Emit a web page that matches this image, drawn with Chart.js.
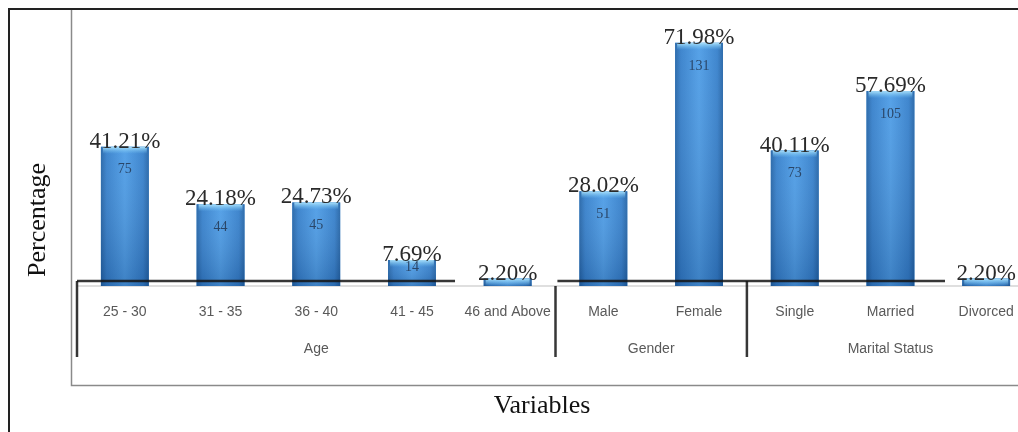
<!DOCTYPE html>
<html><head><meta charset="utf-8">
<script src="https://cdn.jsdelivr.net/npm/chart.js@4.4.1/dist/chart.umd.min.js"></script>
<style>
html,body{margin:0;padding:0;background:#fff;overflow:hidden;width:1018px;height:432px;}
#wrap{position:absolute;left:0;top:0;width:1060px;height:432px;}
</style></head><body>
<div id="wrap"><canvas id="c"></canvas></div>
<script>
const categories = ['25 - 30','31 - 35','36 - 40','41 - 45','46 and Above','Male','Female','Single','Married','Divorced'];
const percentages = [41.21, 24.18, 24.73, 7.69, 2.20, 28.02, 71.98, 40.11, 57.69, 2.20];
const counts = [75, 44, 45, 14, null, 51, 131, 73, 105, null];
const groups = ['Age', 'Gender', 'Marital Status'];
const groupSizes = [5, 2, 3];
const yTitle = 'Percentage';
const xTitle = 'Variables';

const TICK_FONT = '14px "Liberation Sans", Arial, sans-serif';
const SERIF = '"Liberation Serif", "Times New Roman", serif';

const decor = {
  id: 'decor',
  beforeDraw(chart) {
    const ctx = chart.ctx, W = chart.width;
    const y0 = chart.scales.y.getPixelForValue(0);
    ctx.save();
    ctx.strokeStyle = '#222'; ctx.lineWidth = 2;
    ctx.beginPath(); ctx.moveTo(9, 432); ctx.lineTo(9, 9); ctx.lineTo(W, 9); ctx.stroke();
    ctx.strokeStyle = '#8a8a8a'; ctx.lineWidth = 1.5;
    ctx.beginPath(); ctx.moveTo(71.5, 10); ctx.lineTo(71.5, 385.5); ctx.lineTo(W, 385.5); ctx.stroke();
    ctx.strokeStyle = '#d4d4d4'; ctx.lineWidth = 1.5;
    ctx.beginPath(); ctx.moveTo(chart.scales.x.getPixelForValue(-0.5), y0); ctx.lineTo(W, y0); ctx.stroke();
    ctx.restore();
  },
  afterDatasetsDraw(chart) {
    const ctx = chart.ctx;
    const xs = chart.scales.x, ys = chart.scales.y;
    const y0 = ys.getPixelForValue(0);
    const meta = chart.getDatasetMeta(0);
    ctx.save();
    meta.data.forEach((bar, i) => {
      const p = bar.getProps(['x', 'y', 'base', 'width'], true);
      const l = p.x - p.width / 2, r = p.x + p.width / 2, t = p.y, b = p.base, h = b - t;
      const g = ctx.createLinearGradient(l, 0, r, 0);
      g.addColorStop(0, '#2263a6');
      g.addColorStop(0.12, '#347fcb');
      g.addColorStop(0.5, '#4c9ce6');
      g.addColorStop(0.88, '#347fcb');
      g.addColorStop(1, '#2263a6');
      ctx.fillStyle = g; ctx.fillRect(l, t, p.width, h);
      const v = ctx.createLinearGradient(0, t, 0, b);
      v.addColorStop(0, 'rgba(255,255,255,0.06)');
      v.addColorStop(1, 'rgba(0,20,60,0.2)');
      ctx.fillStyle = v; ctx.fillRect(l, t, p.width, h);
      const capH = Math.min(7, h);
      const c = ctx.createLinearGradient(0, t, 0, t + capH);
      c.addColorStop(0, 'rgba(175,228,252,0.95)');
      c.addColorStop(1, 'rgba(120,200,245,0)');
      ctx.fillStyle = c; ctx.fillRect(l + 2, t, p.width - 4, capH);
    });
    ctx.strokeStyle = 'rgba(20,20,20,0.85)'; ctx.lineWidth = 2.5;
    const ya = y0 - 5;
    ctx.beginPath();
    ctx.moveTo(xs.getPixelForValue(-0.5), ya); ctx.lineTo(xs.getPixelForValue(3.45), ya);
    ctx.moveTo(xs.getPixelForValue(4.52), ya); ctx.lineTo(xs.getPixelForValue(8.57), ya);
    ctx.stroke();
    let start = 0;
    ctx.font = TICK_FONT; ctx.fillStyle = '#595959'; ctx.textAlign = 'center'; ctx.textBaseline = 'middle';
    groups.forEach((gname, gi) => {
      const sx = xs.getPixelForValue(start - 0.5);
      ctx.beginPath();
      ctx.moveTo(sx, gi === 1 ? y0 : ya); ctx.lineTo(sx, y0 + 71);
      ctx.stroke();
      const end = start + groupSizes[gi] - 1;
      const cx = (xs.getPixelForValue(start) + xs.getPixelForValue(end)) / 2;
      ctx.fillText(gname, cx, y0 + 63);
      start = end + 1;
    });
    meta.data.forEach((bar, i) => {
      const p = bar.getProps(['x', 'y', 'base'], true);
      ctx.font = '23px ' + SERIF; ctx.fillStyle = '#2a2a2a';
      ctx.textBaseline = 'alphabetic';
      ctx.fillText(percentages[i].toFixed(2) + '%', p.x, p.y + 1);
      if (counts[i] !== null) {
        const h = p.base - p.y;
        ctx.font = '14px ' + SERIF; ctx.fillStyle = '#2a4668';
        ctx.textBaseline = 'middle';
        ctx.fillText(String(counts[i]), p.x, p.y + Math.min(23, h * 0.3));
      }
    });
    ctx.fillStyle = '#111'; ctx.font = '26px ' + SERIF; ctx.textBaseline = 'middle';
    ctx.fillText(xTitle, 542, 406);
    ctx.translate(38, 220); ctx.rotate(-Math.PI / 2);
    ctx.fillText(yTitle, 0, 0);
    ctx.restore();
  }
};

new Chart(document.getElementById('c'), {
  type: 'bar',
  data: {
    labels: categories,
    datasets: [{ data: percentages, backgroundColor: '#3a8ad6', borderWidth: 0,
      barPercentage: 0.5, categoryPercentage: 1.0 }]
  },
  options: {
    responsive: true, maintainAspectRatio: false, animation: false,
    layout: { padding: { left: 77, right: 26, top: 9, bottom: 0 } },
    plugins: { legend: { display: false }, tooltip: { enabled: false } },
    scales: {
      x: {
        grid: { display: false, drawTicks: false }, border: { display: false },
        ticks: { font: { family: '"Liberation Sans", Arial, sans-serif', size: 14 }, color: '#595959',
          padding: 18, maxRotation: 0, autoSkip: false },
        afterFit(scale) { scale.height = 146; }
      },
      y: { display: false, min: 0, max: 82 }
    }
  },
  plugins: [decor]
});
</script>
</body></html>
